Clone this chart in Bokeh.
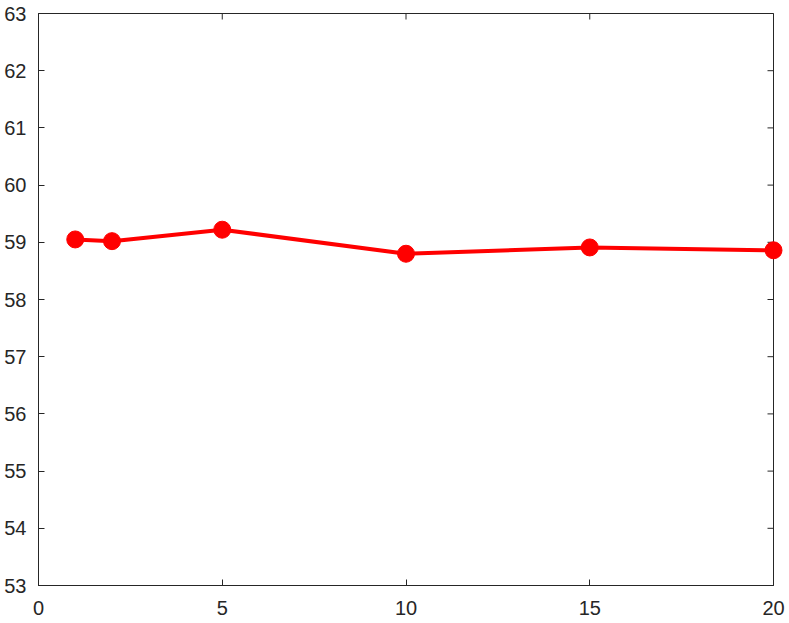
import math
from bokeh.plotting import figure
from bokeh.models import Range1d, FixedTicker
from bokeh.embed import file_html
from bokeh.resources import INLINE

x_vals = [1, 2, 5, 10, 15, 20]
y_vals = [59.05, 59.02, 59.22, 58.80, 58.91, 58.86]
x_ticks = [0, 5, 10, 15, 20]
y_ticks = [53, 54, 55, 56, 57, 58, 59, 60, 61, 62, 63]

AX = "#262626"
FONT = "Liberation Sans"
X0, X1, Y0, Y1 = 0, 20, 53, 63

p = figure(width=787, height=621, output_backend="svg", toolbar_location=None,
           x_range=Range1d(X0, X1), y_range=Range1d(Y0, Y1),
           min_border_left=38, min_border_right=14, min_border_top=13, min_border_bottom=36)
p.outline_line_color = AX
p.outline_line_width = 1
p.xgrid.visible = False
p.ygrid.visible = False
p.background_fill_color = "white"
p.border_fill_color = "white"


def style(ax, ticks, standoff):
    ax.ticker = FixedTicker(ticks=ticks)
    ax.axis_line_color = AX
    ax.axis_line_width = 1
    ax.major_tick_line_color = AX
    ax.major_tick_in = 6
    ax.major_tick_out = 0
    ax.minor_tick_line_color = None
    ax.major_label_text_font = FONT
    ax.major_label_text_font_size = "20px"
    ax.major_label_text_color = "#262626"
    ax.major_label_standoff = standoff


style(p.xaxis[0], x_ticks, 15)
style(p.yaxis[0], y_ticks, 12)

# mirrored ticks on the top and right edges (clipped to the frame: half shows inside)
p.scatter(x_ticks, [Y1] * len(x_ticks), marker="dash", size=12, angle=math.pi / 2,
          line_color=AX, line_width=1)
p.scatter([X1] * len(y_ticks), y_ticks, marker="dash", size=12,
          line_color=AX, line_width=1)

p.line(x_vals, y_vals, line_color="#ff0000", line_width=4, level="overlay")
p.scatter(x_vals, y_vals, size=17, fill_color="#ff0000", line_color="#ff0000", level="overlay")

open("out.html", "w").write(file_html(p, INLINE))
